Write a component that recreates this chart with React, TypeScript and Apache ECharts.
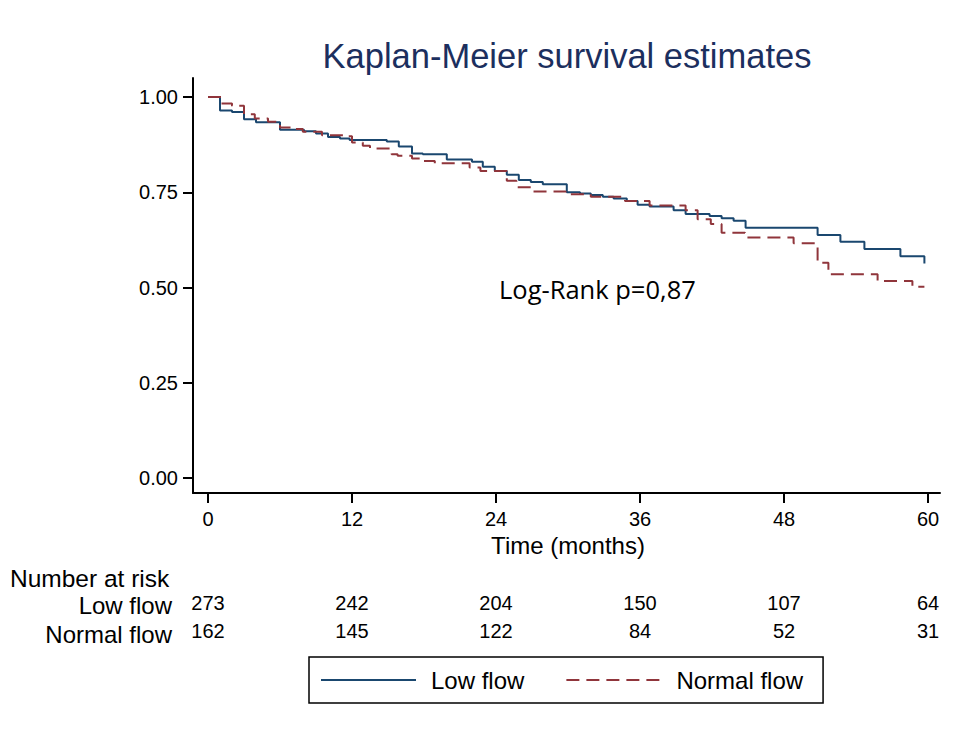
import React, { useEffect, useRef } from "react";
import * as echarts from "echarts";

const TITLE = "Kaplan-Meier survival estimates";
const X_LABEL = "Time (months)";
const ANNOTATION = "Log-Rank p=0,87";
const SERIES_NAMES = ["Low flow", "Normal flow"];

const X_TICKS = [0, 12, 24, 36, 48, 60];
const Y_TICKS = [0, 0.25, 0.5, 0.75, 1];

const RISK_TIMES = [0, 12, 24, 36, 48, 60];
const LOW_AT_RISK = [273, 242, 204, 150, 107, 64];
const NORMAL_AT_RISK = [162, 145, 122, 84, 52, 31];

const LOW_T = [0, 1, 2, 3, 4, 6, 8, 9, 10, 11, 11.8, 14.9, 15.9, 17, 17.9, 19.9, 22, 22.9, 23.9, 24.9, 25.9, 26.9, 27.9, 29.9, 31, 31.9, 32.9, 33.8, 34.9, 35.8, 36.8, 38.8, 39.8, 41.8, 42.8, 43.8, 44.8, 50.8, 52.7, 54.7, 57.7, 59.7];
const LOW_S = [1.0, 0.965, 0.961, 0.942, 0.934, 0.914, 0.91, 0.904, 0.895, 0.891, 0.887, 0.883, 0.87, 0.852, 0.85, 0.836, 0.83, 0.817, 0.806, 0.796, 0.782, 0.777, 0.771, 0.75, 0.747, 0.743, 0.738, 0.734, 0.727, 0.717, 0.713, 0.703, 0.693, 0.688, 0.682, 0.675, 0.657, 0.638, 0.62, 0.601, 0.582, 0.563];

const NORMAL_T = [0, 1.1, 2, 3, 3.9, 5, 6, 7, 7.9, 9.5, 11.3, 12, 12.9, 13.5, 15.3, 15.8, 17, 18, 18.9, 21.8, 22.7, 24.9, 25.7, 26.9, 29.8, 31.9, 34.75, 36.8, 39.8, 40.8, 41.9, 42.8, 44.75, 48.8, 50.8, 51.7, 55.8, 58.7, 59.7];
const NORMAL_S = [1.0, 0.983, 0.977, 0.955, 0.944, 0.935, 0.92, 0.916, 0.909, 0.9, 0.897, 0.881, 0.872, 0.865, 0.85, 0.846, 0.839, 0.832, 0.826, 0.815, 0.806, 0.78, 0.763, 0.752, 0.745, 0.738, 0.727, 0.715, 0.703, 0.679, 0.667, 0.644, 0.631, 0.616, 0.565, 0.535, 0.517, 0.502, 0.502];

const FONT = "'Liberation Sans', Arial, sans-serif";
const BLUE = "#1a476f";
const RED = "#90353b";

function pairs(ts: number[], ss: number[]) {
  return ts.map((t, i) => [t, ss[i]]);
}

export default function App() {
  const ref = useRef<HTMLDivElement>(null);

  useEffect(() => {
    if (!ref.current) return;
    const chart = echarts.init(ref.current, undefined, { renderer: "svg" });
    const axisColor = "#000";
    chart.setOption({
      animation: false,
      grid: { left: 193, top: 78, width: 747, height: 415, containLabel: false },
      xAxis: {
        type: "value",
        min: -1.25,
        max: 61,
        axisLine: { show: true, onZero: false, lineStyle: { color: axisColor, width: 2 } },
        axisTick: { show: true, customValues: X_TICKS, length: 10, lineStyle: { color: axisColor, width: 2 } },
        axisLabel: { show: true, customValues: X_TICKS, margin: 16, fontSize: 20, color: "#000", fontFamily: FONT },
        splitLine: { show: false },
      },
      yAxis: {
        type: "value",
        min: -0.0394,
        max: 1.05,
        axisLine: { show: true, onZero: false, lineStyle: { color: axisColor, width: 2 } },
        axisTick: { show: true, customValues: Y_TICKS, length: 10, lineStyle: { color: axisColor, width: 2 } },
        axisLabel: {
          show: true,
          customValues: Y_TICKS,
          margin: 15,
          fontSize: 20,
          color: "#000",
          fontFamily: FONT,
          formatter: (v: number) => v.toFixed(2),
        },
        splitLine: { show: false },
      },
      legend: {
        data: SERIES_NAMES,
        left: 309,
        top: 657,
        orient: "horizontal",
        borderColor: "#000",
        borderWidth: 1.5,
        padding: [11, 20, 11, 11],
        itemWidth: 95,
        itemHeight: 20,
        itemGap: 41,
        itemStyle: { opacity: 0 },
        textStyle: { fontSize: 24, color: "#000", fontFamily: FONT, padding: [0, 0, 0, 10] },
      },
      series: [
        {
          name: SERIES_NAMES[0],
          type: "line",
          step: "end",
          symbol: "none",
          data: pairs(LOW_T, LOW_S),
          lineStyle: { color: BLUE, width: 2 },
          itemStyle: { color: BLUE },
        },
        {
          name: SERIES_NAMES[1],
          type: "line",
          step: "end",
          symbol: "none",
          data: pairs(NORMAL_T, NORMAL_S),
          lineStyle: { color: RED, width: 2, type: [13, 7] },
          itemStyle: { color: RED },
        },
      ],
    });

    const px = (t: number) => chart.convertToPixel({ xAxisIndex: 0 }, t) as number;
    const txt = (text: string, x: number, y: number, size: number, align: string, opts: any = {}) => ({
      type: "text",
      x,
      y,
      silent: true,
      style: {
        text,
        fontSize: size,
        fontFamily: opts.fontFamily || FONT,
        fill: opts.fill || "#000",
        align,
        verticalAlign: "middle",
        textAlign: align,
        textVerticalAlign: "middle",
      },
    });

    const graphics: any[] = [
      txt(TITLE, 567, 56, 34.5, "center", { fill: "#1c2f5e" }),
      txt(ANNOTATION, 499, 289, 25.5, "left", { fontFamily: "'Open Sans', sans-serif" }),
      txt(X_LABEL, 568, 545, 24, "center"),
      txt("Number at risk", 10, 578, 24.5, "left"),
      txt(SERIES_NAMES[0], 172, 605, 24, "right"),
      txt(SERIES_NAMES[1], 172, 634, 24, "right"),
    ];
    RISK_TIMES.forEach((t, i) => {
      graphics.push(txt(String(LOW_AT_RISK[i]), px(t), 603, 20, "center"));
      graphics.push(txt(String(NORMAL_AT_RISK[i]), px(t), 631, 20, "center"));
    });
    chart.setOption({ graphic: graphics });

    return () => chart.dispose();
  }, []);

  return (
    <div
      ref={ref}
      style={{ position: "fixed", left: 0, top: 0, width: 955, height: 731, background: "#fff" }}
    />
  );
}
